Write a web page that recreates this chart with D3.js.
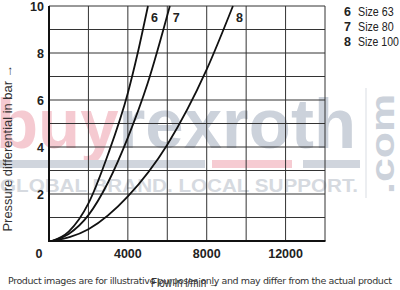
<!DOCTYPE html>
<html>
<head>
<meta charset="utf-8">
<script src="https://cdn.jsdelivr.net/npm/d3@7"></script>
<style>
  body { margin: 0; background: #fff; }
  svg { display: block; }
</style>
</head>
<body>
<svg id="chart" width="400" height="290"></svg>
<script>
// flow in l/min, pressure differential in bar
const flow6 = [150, 1000, 2000, 3000, 4000, 4500, 5020];
const dp6 = [0, 0.4, 1.6, 3.7, 6.3, 8.0, 10];
const flow7 = [150, 1000, 2000, 3000, 4000, 5000, 6130];
const dp7 = [0, 0.3, 1.1, 2.5, 4.4, 6.7, 10];
const flow8 = [150, 2000, 4000, 6000, 8000, 9330];
const dp8 = [0, 0.5, 1.9, 4.1, 7.3, 10];

const curveIds = ["6", "7", "8"];
const legendLabels = ["Size 63", "Size 80", "Size 100"];
const xTicks = [0, 4000, 8000, 12000];
const yTicks = [2, 4, 6, 8, 10];

const series = [
  { id: "6", values: flow6.map((f, i) => [f, dp6[i]]) },
  { id: "7", values: flow7.map((f, i) => [f, dp7[i]]) },
  { id: "8", values: flow8.map((f, i) => [f, dp8[i]]) },
];

const svg = d3.select("#chart");

// watermark behind everything
const wm = svg.append("g");
wm.append("text")
  .attr("x", -4)
  .attr("y", 148)
  .attr("font-family", "Liberation Sans, Arial, sans-serif")
  .attr("font-weight", "bold")
  .attr("font-size", 70)
  .attr("textLength", 360)
  .attr("lengthAdjust", "spacingAndGlyphs")
  .call((t) => {
    t.append("tspan").attr("fill", "#f5cad1").text("buy");
    t.append("tspan").attr("fill", "#ccd2db").text("rexroth");
  });
wm.append("rect").attr("x", 0).attr("y", 160).attr("width", 205).attr("height", 8).attr("fill", "#d0d5dd");
wm.append("rect").attr("x", 212).attr("y", 160).attr("width", 80).attr("height", 8).attr("fill", "#f6cbd2");
wm.append("rect").attr("x", 303).attr("y", 160).attr("width", 57).attr("height", 8).attr("fill", "#d0d5dd");
wm.append("text")
  .attr("x", 0)
  .attr("y", 192)
  .attr("font-family", "Liberation Sans, Arial, sans-serif")
  .attr("font-weight", "bold")
  .attr("font-size", 19)
  .attr("textLength", 358)
  .attr("lengthAdjust", "spacingAndGlyphs")
  .attr("fill", "#d6dae0")
  .text("GLOBAL BRAND. LOCAL SUPPORT.");
wm.append("line")
  .attr("x1", 366).attr("x2", 366)
  .attr("y1", 88).attr("y2", 198)
  .attr("stroke", "#d9dde3")
  .attr("stroke-width", 1);
wm.append("text")
  .attr("transform", "translate(394,194) rotate(-90)")
  .attr("font-family", "Liberation Sans, Arial, sans-serif")
  .attr("font-weight", "bold")
  .attr("font-size", 34)
  .attr("textLength", 100)
  .attr("lengthAdjust", "spacingAndGlyphs")
  .attr("fill", "#ccd2db")
  .text(".com");

const margin = { left: 49, right: 75, top: 6, bottom: 49 };
const width = 400;
const height = 290;

const x = d3.scaleLinear().domain([0, 14000]).range([margin.left, width - margin.right]);
const y = d3.scaleLinear().domain([0, 10]).range([height - margin.bottom, margin.top]);

// grid
svg.append("g")
  .selectAll("line")
  .data(d3.range(2000, 14001, 2000))
  .join("line")
  .attr("x1", (d) => x(d))
  .attr("x2", (d) => x(d))
  .attr("y1", y(0))
  .attr("y2", y(10))
  .attr("stroke", "#333")
  .attr("stroke-width", 1);
svg.append("g")
  .selectAll("line")
  .data(d3.range(1, 11))
  .join("line")
  .attr("x1", x(0))
  .attr("x2", x(14000))
  .attr("y1", (d) => y(d))
  .attr("y2", (d) => y(d))
  .attr("stroke", "#333")
  .attr("stroke-width", 1);

// axes lines
svg.append("line")
  .attr("x1", x(0)).attr("x2", x(0))
  .attr("y1", y(0) + 1).attr("y2", y(10))
  .attr("stroke", "#111").attr("stroke-width", 2);
svg.append("line")
  .attr("x1", x(0) - 1).attr("x2", x(14000) + 0.5)
  .attr("y1", y(0)).attr("y2", y(0))
  .attr("stroke", "#111").attr("stroke-width", 2);

// tick labels
svg.append("g")
  .selectAll("text")
  .data(yTicks)
  .join("text")
  .attr("x", 44)
  .attr("y", (d) => Math.max(y(d) + 4.5, 11))
  .attr("text-anchor", "end")
  .attr("font-family", "Liberation Sans, Arial, sans-serif")
  .attr("font-weight", "bold")
  .attr("font-size", 12.5)
  .attr("fill", "#222")
  .text((d) => d);
svg.append("g")
  .selectAll("text")
  .data(xTicks)
  .join("text")
  .attr("x", (d) => (d === 0 ? 39 : x(d)))
  .attr("y", 258)
  .attr("text-anchor", "middle")
  .attr("font-family", "Liberation Sans, Arial, sans-serif")
  .attr("font-weight", "bold")
  .attr("font-size", 12.5)
  .attr("fill", "#222")
  .text((d) => d);

// curves
const line = d3.line()
  .x((d) => x(d[0]))
  .y((d) => y(d[1]))
  .curve(d3.curveMonotoneX);

svg.append("g")
  .selectAll("path")
  .data(series)
  .join("path")
  .attr("d", (d) => line(d.values))
  .attr("fill", "none")
  .attr("stroke", "#111")
  .attr("stroke-width", 1.8);

// curve numbers near the top
svg.append("g")
  .selectAll("text")
  .data(series)
  .join("text")
  .attr("x", (d) => x(d.values[d.values.length - 1][0]) + 3)
  .attr("y", 22)
  .attr("font-family", "Liberation Sans, Arial, sans-serif")
  .attr("font-weight", "bold")
  .attr("font-size", 12.5)
  .attr("fill", "#222")
  .text((d) => d.id);

// legend
const legend = svg.append("g");
legend.selectAll("text.num")
  .data(curveIds)
  .join("text")
  .attr("class", "num")
  .attr("x", 344)
  .attr("y", (d, i) => 16 + i * 15)
  .attr("font-family", "Liberation Sans, Arial, sans-serif")
  .attr("font-weight", "bold")
  .attr("font-size", 12.5)
  .attr("fill", "#222")
  .text((d) => d);
legend.selectAll("text.lbl")
  .data(legendLabels)
  .join("text")
  .attr("class", "lbl")
  .attr("x", 358)
  .attr("y", (d, i) => 16 + i * 15)
  .attr("font-family", "Liberation Sans, Arial, sans-serif")
  .attr("font-size", 12.5)
  .attr("textLength", (d) => d.length * 5.1)
  .attr("lengthAdjust", "spacingAndGlyphs")
  .attr("fill", "#222")
  .text((d) => d);

// axis titles
svg.append("text")
  .attr("transform", "translate(12,148) rotate(-90)")
  .attr("text-anchor", "middle")
  .attr("font-family", "Liberation Sans, Arial, sans-serif")
  .attr("font-size", 12)
  .attr("textLength", 167)
  .attr("lengthAdjust", "spacingAndGlyphs")
  .attr("fill", "#333")
  .text("Pressure differential in bar \u2192");
svg.append("text")
  .attr("x", 185)
  .attr("y", 287)
  .attr("text-anchor", "middle")
  .attr("font-family", "Liberation Sans, Arial, sans-serif")
  .attr("font-size", 12)
  .attr("textLength", 68)
  .attr("lengthAdjust", "spacingAndGlyphs")
  .attr("fill", "#333")
  .text("Flow in l/min \u2192");

// footer note
svg.append("text")
  .attr("x", 200)
  .attr("y", 284)
  .attr("text-anchor", "middle")
  .attr("font-family", "DejaVu Sans, sans-serif")
  .attr("font-size", 9.5)
  .attr("textLength", 384)
  .attr("fill", "#333")
  .text("Product images are for illustrative purposes only and may differ from the actual product");
</script>
</body>
</html>
